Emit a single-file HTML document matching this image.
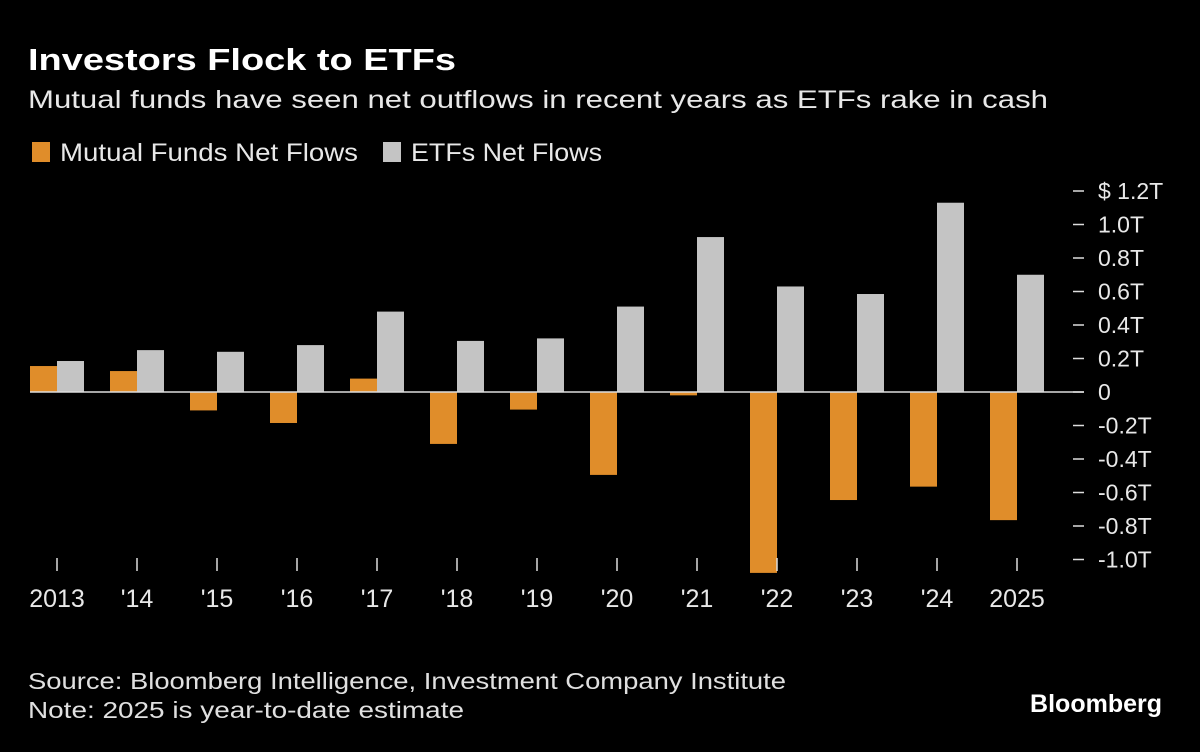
<!DOCTYPE html>
<html><head><meta charset="utf-8"><style>
body{margin:0;background:#000;width:1200px;height:747px;overflow:hidden;font-family:"Liberation Sans",sans-serif;color:#e8e8e8}
</style></head><body>
<svg width="1200" height="747" xmlns="http://www.w3.org/2000/svg" font-family="Liberation Sans, sans-serif">
<text x="28" y="70" font-size="31" font-weight="bold" fill="#fff" textLength="428" lengthAdjust="spacingAndGlyphs">Investors Flock to ETFs</text>
<text x="28" y="108" font-size="25" fill="#e8e8e8" textLength="1020" lengthAdjust="spacingAndGlyphs">Mutual funds have seen net outflows in recent years as ETFs rake in cash</text>
<g>
<rect x="32" y="142" width="18" height="20" fill="#e08d2a"/>
<text x="60" y="161" font-size="25" fill="#e8e8e8" textLength="298" lengthAdjust="spacingAndGlyphs">Mutual Funds Net Flows</text>
<rect x="383" y="142" width="18" height="20" fill="#c4c4c4"/>
<text x="411" y="161" font-size="25" fill="#e8e8e8" textLength="191" lengthAdjust="spacingAndGlyphs">ETFs Net Flows</text>
</g>
<g id="plot"></g>
<text x="28" y="689" font-size="23" fill="#e0e0e0" textLength="758" lengthAdjust="spacingAndGlyphs">Source: Bloomberg Intelligence, Investment Company Institute</text>
<text x="28" y="718" font-size="23" fill="#e0e0e0" textLength="436" lengthAdjust="spacingAndGlyphs">Note: 2025 is year-to-date estimate</text>
<text x="1162" y="712" font-size="25" font-weight="bold" fill="#fff" text-anchor="end">Bloomberg</text>
</svg>
<script>
const categories=["2013","'14","'15","'16","'17","'18","'19","'20","'21","'22","'23","'24","2025"];
const mutualFunds=[0.155,0.125,-0.11,-0.185,0.08,-0.31,-0.105,-0.495,-0.02,-1.08,-0.645,-0.565,-0.765];
const etfs=[0.185,0.25,0.24,0.28,0.48,0.305,0.32,0.51,0.925,0.63,0.585,1.13,0.70];
const yTicks=[1.2,1.0,0.8,0.6,0.4,0.2,0,-0.2,-0.4,-0.6,-0.8,-1.0];
const yLabels=["$ 1.2T","1.0T","0.8T","0.6T","0.4T","0.2T","0","-0.2T","-0.4T","-0.6T","-0.8T","-1.0T"];
const NS="http://www.w3.org/2000/svg";
const g=document.getElementById('plot');
const y=v=>392-v*167.5;
const xc=i=>57+i*80;
const bw=27;
function mk(t,a){const e=document.createElementNS(NS,t);for(const k in a)e.setAttribute(k,a[k]);g.appendChild(e);return e;}
yTicks.forEach((v,i)=>{
 const t=mk('line',{x1:1073,x2:1084,y1:y(v),y2:y(v),stroke:'#ddd','stroke-width':1.5});
 
 
 const l=mk('text',{x:1098,y:y(v)+8,'font-size':23,fill:'#e8e8e8'});
 l.textContent=yLabels[i];
 
 
});
categories.forEach((c,i)=>{
 const m=mutualFunds[i],e=etfs[i];
 const r1=mk('rect',{x:xc(i)-bw,y:Math.min(y(m),y(0)),width:bw,height:Math.abs(y(m)-y(0)),fill:'#e08d2a'});
 
 
 const r2=mk('rect',{x:xc(i),y:Math.min(y(e),y(0)),width:bw,height:Math.abs(y(e)-y(0)),fill:'#c4c4c4'});
 
 
 const t=mk('line',{x1:xc(i),x2:xc(i),y1:558,y2:571,stroke:'#ddd','stroke-width':1.5});
 
 
 const l=mk('text',{x:xc(i),y:607,'font-size':25,fill:'#e8e8e8','text-anchor':'middle'});
 l.textContent=c;
 
 
});
const z=mk('line',{x1:30,x2:1084,y1:y(0),y2:y(0),stroke:'#ddd','stroke-width':1.5});


</script>
</body></html>
